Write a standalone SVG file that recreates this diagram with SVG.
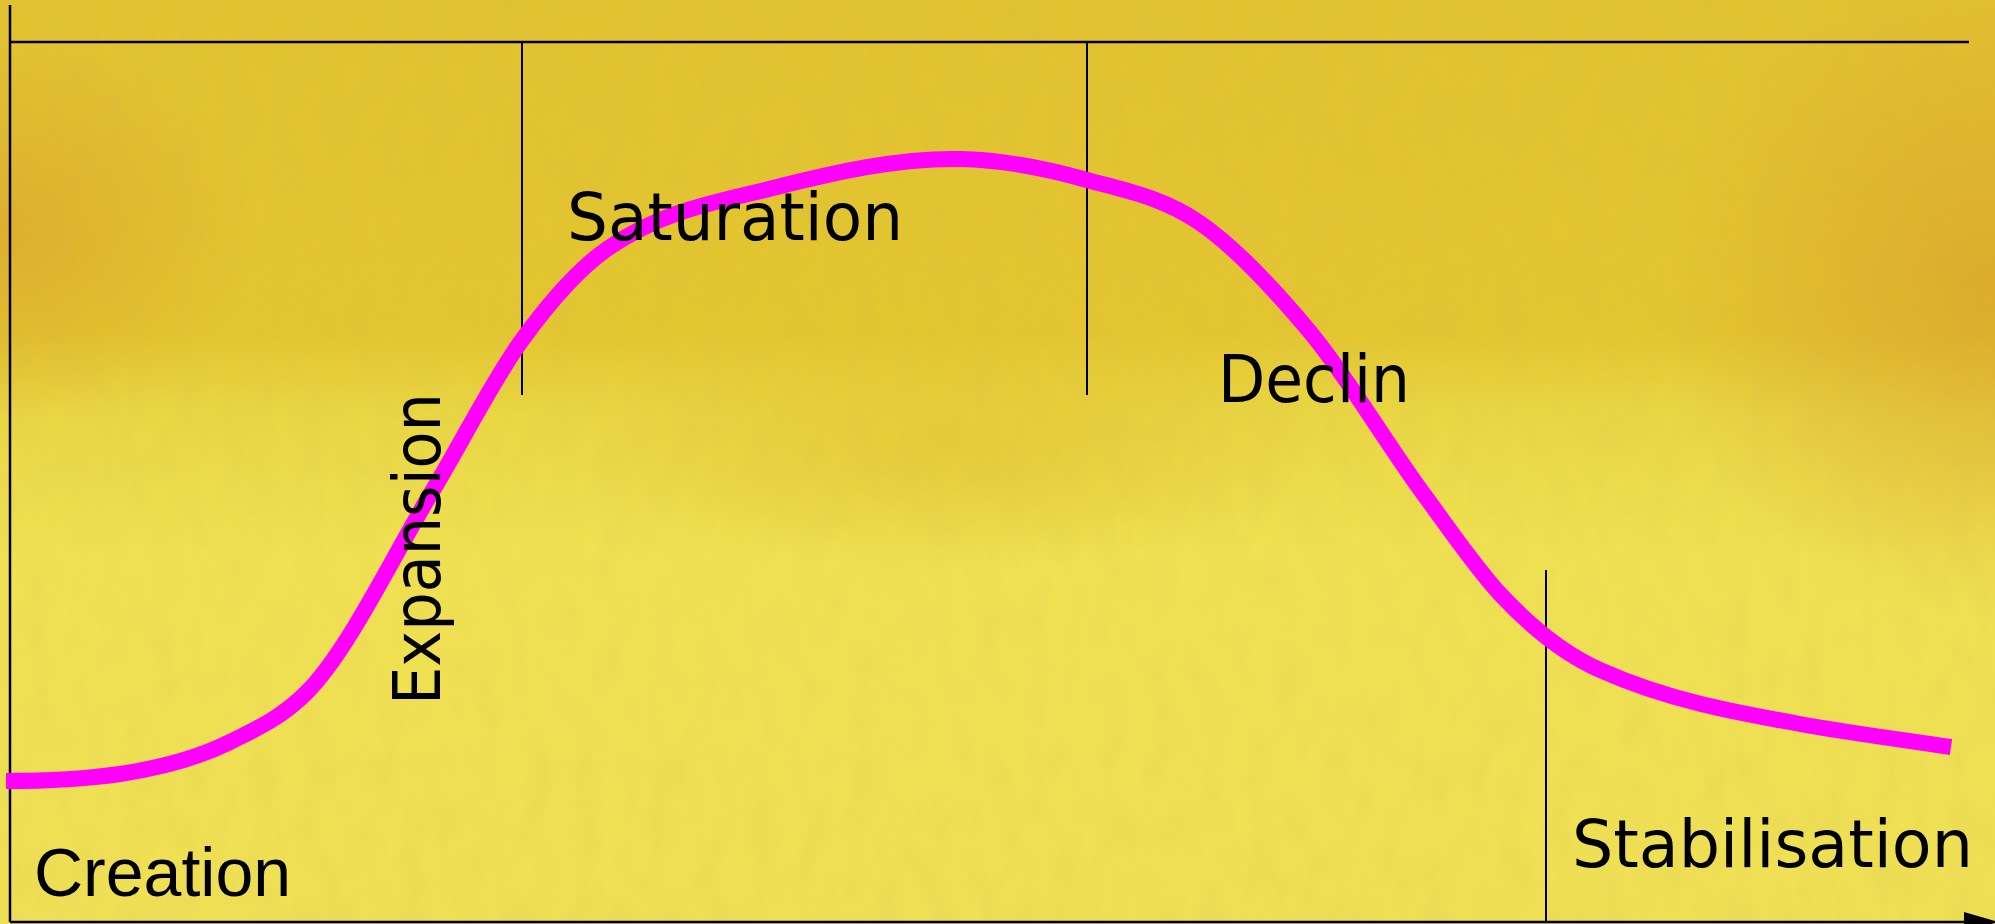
<svg xmlns="http://www.w3.org/2000/svg" width="1995" height="924" viewBox="0 0 1995 924">
<defs>
<linearGradient id="bgv" x1="0" y1="0" x2="0" y2="1">
<stop offset="0" stop-color="#E2C230"/>
<stop offset="0.36" stop-color="#E4C630"/>
<stop offset="0.45" stop-color="#EAD744"/>
<stop offset="0.6" stop-color="#F0E152"/>
<stop offset="1" stop-color="#EFE055"/>
</linearGradient>
<radialGradient id="orL" cx="0" cy="230" r="260" gradientUnits="userSpaceOnUse" gradientTransform="translate(0,230) scale(1,0.75) translate(0,-230)">
<stop offset="0" stop-color="#D89A28" stop-opacity="0.5"/>
<stop offset="1" stop-color="#D89A28" stop-opacity="0"/>
</radialGradient>
<radialGradient id="orR" cx="1995" cy="290" r="330" gradientUnits="userSpaceOnUse">
<stop offset="0" stop-color="#D89A28" stop-opacity="0.6"/>
<stop offset="1" stop-color="#D89A28" stop-opacity="0"/>
</radialGradient>
<radialGradient id="midG" cx="950" cy="440" r="380" gradientUnits="userSpaceOnUse" gradientTransform="translate(950,440) scale(1,0.35) translate(-950,-440)">
<stop offset="0" stop-color="#E2C22E" stop-opacity="0.6"/>
<stop offset="1" stop-color="#E2C22E" stop-opacity="0"/>
</radialGradient>
<filter id="tex" x="0" y="0" width="1" height="1">
<feTurbulence type="fractalNoise" baseFrequency="0.04 0.02" numOctaves="3" seed="4" result="n"/>
<feColorMatrix type="matrix" values="0 0 0 0 0.55  0 0 0 0 0.45  0 0 0 0 0.1  0 0 0 0.35 -0.1"/>
</filter>
<style>
.ln{stroke:#000;fill:none}
.ax{stroke-width:2.5}
.sep{stroke-width:2}
.curve{stroke:#FF00FF;stroke-width:16;fill:none;stroke-linecap:butt;stroke-linejoin:round}
.lbl{font-family:'Comic Sans MS','DejaVu Sans',sans-serif;font-size:66px;fill:#000}
.arial{font-family:'Liberation Sans',Arial,sans-serif;font-size:68px;fill:#000}
</style>
</defs>
<g id="background">
<rect x="0" y="0" width="1995" height="924" fill="url(#bgv)"/>
<rect x="0" y="0" width="1995" height="924" fill="url(#orL)"/>
<rect x="0" y="0" width="1995" height="924" fill="url(#orR)"/>
<rect x="0" y="0" width="1995" height="924" fill="url(#midG)"/>
<rect x="0" y="0" width="1995" height="924" filter="url(#tex)" opacity="0.5"/>
</g>
<g id="connectors">
<line class="ln ax" x1="10" y1="5" x2="10" y2="922"/>
<line class="ln ax" x1="10" y1="42" x2="1969" y2="42"/>
<line class="ln ax" x1="10" y1="922" x2="1966" y2="922"/>
<polygon points="1964,912 1998,922 1964,932" fill="#000"/>
<line class="ln sep" x1="522" y1="42" x2="522" y2="395"/>
<line class="ln sep" x1="1087" y1="42" x2="1087" y2="395"/>
<line class="ln sep" x1="1546" y1="570" x2="1546" y2="922"/>
<path class="curve" d="M6,781 C44,781 82,779.5 120,774 C156.7,768.5 193.3,760.3 230,742 C255.3,729.3 280.7,718.3 306,693 C348.3,650.7 390.7,559.8 433,490 C462.7,441 492.3,380.6 522,340 C550.3,301.2 578.7,268.8 607,249 C662.3,210.3 717.7,201.8 773,188 C835.3,172.4 897.7,157.8 960,159 C1002.3,159.8 1044.7,168.1 1087,180 C1124.7,190.5 1162.3,197 1200,223 C1236.7,248.3 1273.3,288 1310,332 C1348.3,378 1386.7,444.3 1425,496 C1450.3,530.2 1475.7,568 1501,595 C1534,630.2 1567,655.2 1600,670 C1666.7,700 1733.3,712 1800,724 C1850.3,733.1 1900.7,739.5 1951,747"/>
</g>
<g id="creation"><text class="arial" x="34" y="896">Creation</text></g>
<g id="expansion"><text class="lbl" transform="translate(440,705) rotate(-90)" x="0" y="0" textLength="312" lengthAdjust="spacingAndGlyphs">Expansion</text></g>
<g id="saturation"><text class="lbl" x="567" y="240" textLength="336" lengthAdjust="spacingAndGlyphs">Saturation</text></g>
<g id="declin"><text class="lbl" x="1218" y="402" textLength="192" lengthAdjust="spacingAndGlyphs">Declin</text></g>
<g id="stabilisation"><text class="lbl" x="1572" y="867" textLength="401" lengthAdjust="spacingAndGlyphs">Stabilisation</text></g>
</svg>
